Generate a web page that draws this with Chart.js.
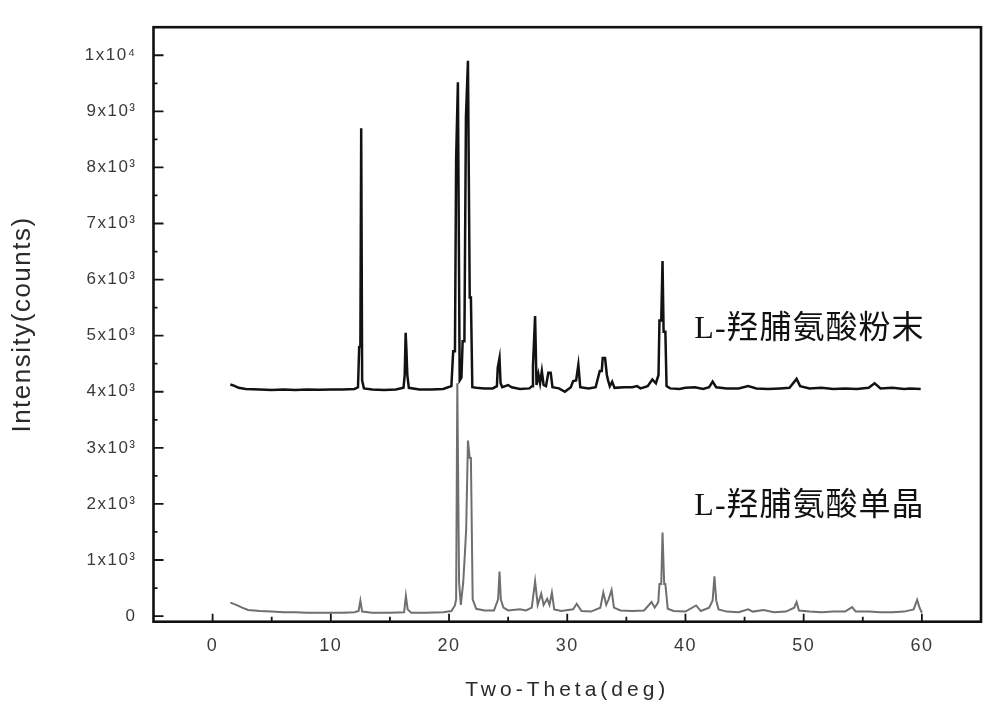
<!DOCTYPE html>
<html>
<head>
<meta charset="utf-8">
<script src="https://cdn.jsdelivr.net/npm/chart.js@4.4.1/dist/chart.umd.min.js"></script>
<style>
  html, body { margin: 0; padding: 0; background: #fff; }
  canvas { display: block; }
</style>
</head>
<body>
<canvas id="c" width="1000" height="714"></canvas>
<script>
// ---- data ----
const powderTheta = [1.5,1.8,2.2,2.8,4.0,5.0,6.0,7.0,8.0,9.0,10.0,11.0,12.0,12.3,12.4,12.5,12.57,12.65,12.8,13.5,14.5,15.5,16.15,16.25,16.33,16.4,16.47,16.6,17.5,18.5,19.5,20.2,20.35,20.5,20.6,20.75,20.9,21.05,21.15,21.3,21.43,21.6,21.75,21.85,21.97,22.3,23.0,23.7,24.05,24.12,24.27,24.36,24.5,25.0,25.3,26.0,26.8,27.02,27.1,27.28,27.4,27.56,27.7,27.85,28.0,28.2,28.4,28.6,28.75,29.3,29.8,30.3,30.5,30.75,30.94,31.1,31.8,32.4,32.75,32.92,33.0,33.2,33.35,33.47,33.6,33.8,34.0,34.8,35.5,35.9,36.2,36.8,37.2,37.5,37.72,37.8,37.95,38.06,38.15,38.3,38.4,38.7,39.5,40.0,40.8,41.5,42.0,42.3,42.6,43.5,44.5,45.3,46.0,47.0,48.0,48.8,49.4,49.7,50.5,51.5,52.5,53.5,54.5,55.5,56.0,56.5,57.5,58.5,59.0,59.9];
const powderCounts = [4130,4110,4070,4050,4040,4030,4040,4030,4040,4035,4040,4040,4050,4080,4800,4810,8700,4200,4060,4040,4030,4040,4070,4300,5050,4720,4300,4070,4040,4040,4050,4100,4720,4720,8150,9520,4200,4250,4900,4900,8900,9900,5680,5680,4080,4070,4060,4060,4100,4430,4600,4150,4080,4120,4080,4050,4060,4100,4460,5350,4120,4310,4150,4370,4120,4100,4340,4340,4080,4060,4000,4080,4190,4200,4480,4080,4060,4080,4370,4370,4600,4600,4300,4190,4100,4180,4070,4080,4080,4100,4060,4100,4220,4150,4300,5270,5270,6330,5070,5070,4100,4060,4050,4070,4080,4050,4080,4180,4080,4060,4060,4100,4060,4050,4060,4070,4230,4100,4060,4070,4050,4060,4050,4070,4150,4060,4070,4050,4060,4050];

const crystalTheta = [1.5,2.0,2.5,3.0,4.0,5.0,6.0,7.0,8.0,9.0,10.0,11.0,12.0,12.35,12.5,12.65,13.5,15.0,16.2,16.35,16.5,16.8,18.0,19.5,20.2,20.5,20.6,20.7,20.85,21.0,21.2,21.35,21.45,21.6,21.75,21.85,22.0,22.3,23.0,23.8,24.15,24.27,24.38,24.6,25.0,26.0,26.5,27.0,27.28,27.5,27.8,28.0,28.3,28.5,28.7,28.9,29.5,30.5,30.8,31.2,32.0,32.8,33.05,33.3,33.5,33.75,33.95,34.5,35.5,36.5,37.13,37.4,37.7,37.8,37.95,38.06,38.2,38.3,38.5,39.0,40.0,40.9,41.3,42.0,42.3,42.45,42.6,42.8,43.5,44.5,45.3,45.7,46.6,47.5,48.5,49.2,49.4,49.6,50.5,51.5,52.5,53.5,54.1,54.4,55.5,56.5,57.5,58.5,59.3,59.6,59.8,60.0];
const crystalCounts = [240,200,150,110,90,80,70,70,60,60,60,60,70,90,275,80,60,60,70,360,120,60,60,70,90,190,300,4150,600,200,600,1150,1550,3130,2820,2820,300,130,100,100,300,795,300,150,100,120,100,150,620,200,400,200,310,200,420,120,90,120,220,90,80,150,420,200,300,465,150,100,90,100,250,150,250,570,570,1490,570,570,130,90,80,190,90,150,280,710,280,120,80,70,120,80,110,70,80,150,250,100,80,70,80,80,160,80,80,70,70,80,120,290,150,60];

const seriesNames = ['L-羟脯氨酸粉末', 'L-羟脯氨酸单晶'];

const xTickValues = [0, 10, 20, 30, 40, 50, 60];
const xTickLabels = ['0', '10', '20', '30', '40', '50', '60'];
const yTickValues = [0, 1000, 2000, 3000, 4000, 5000, 6000, 7000, 8000, 9000, 10000];
const yTickLabels = ['0', '1x10³', '2x10³', '3x10³', '4x10³', '5x10³', '6x10³', '7x10³', '8x10³', '9x10³', '1x10⁴'];

// label anchors in data coordinates (x = 2θ, y = counts)
const labelAnchors = [[40.75, 5110], [40.75, 1950]];

const toPoints = (xs, ys) => xs.map((v, i) => ({ x: v, y: ys[i] }));

const FONT = "'Liberation Sans', Arial, sans-serif";

const decor = {
  id: 'decor',
  beforeDraw(chart) {
    chart.ctx.letterSpacing = '1.5px';
  },
  beforeDatasetsDraw(chart) {
    chart.ctx.letterSpacing = '0px';
  },
  afterDatasetsDraw(chart) {
    const { ctx, chartArea: a, scales: { x, y } } = chart;
    ctx.save();
    ctx.strokeStyle = '#151515';
    ctx.lineWidth = 1.8;
    ctx.beginPath();
    for (let i = 0; i < xTickValues.length; i++) {
      const v = xTickValues[i];
      const px = x.getPixelForValue(v);
      ctx.moveTo(px, a.bottom); ctx.lineTo(px, a.bottom - 8);
      if (i < xTickValues.length - 1) {
        const m = x.getPixelForValue((v + xTickValues[i + 1]) / 2);
        ctx.moveTo(m, a.bottom); ctx.lineTo(m, a.bottom - 5);
      }
    }
    for (let i = 0; i < yTickValues.length; i++) {
      const v = yTickValues[i];
      const py = y.getPixelForValue(v);
      ctx.moveTo(a.left, py); ctx.lineTo(a.left + 10, py);
      if (i < yTickValues.length - 1) {
        const m = y.getPixelForValue((v + yTickValues[i + 1]) / 2);
        ctx.moveTo(a.left, m); ctx.lineTo(a.left + 4, m);
      }
    }
    ctx.stroke();
    ctx.lineWidth = 2.6;
    ctx.strokeStyle = '#111';
    ctx.strokeRect(a.left, a.top, a.right - a.left, a.bottom - a.top);
    ctx.restore();
  },
  afterDraw(chart) {
    const { ctx, scales: { x, y } } = chart;
    ctx.save();
    ctx.letterSpacing = '1px';
    ctx.fillStyle = '#111';
    ctx.font = "32px 'Liberation Serif', 'Noto Sans CJK SC', serif";
    ctx.textAlign = 'left';
    ctx.textBaseline = 'middle';
    seriesNames.forEach((name, i) => {
      ctx.fillText(name, x.getPixelForValue(labelAnchors[i][0]), y.getPixelForValue(labelAnchors[i][1]));
    });
    ctx.restore();
  }
};

const chart = new Chart(document.getElementById('c'), {
  type: 'line',
  data: {
    datasets: [
      {
        label: seriesNames[0],
        data: toPoints(powderTheta, powderCounts),
        borderColor: '#121212',
        borderWidth: 2.5,
        pointRadius: 0,
        tension: 0,
        fill: false,
        order: 0
      },
      {
        label: seriesNames[1],
        data: toPoints(crystalTheta, crystalCounts),
        borderColor: '#6f6f6f',
        borderWidth: 2,
        pointRadius: 0,
        tension: 0,
        fill: false,
        order: 1
      }
    ]
  },
  options: {
    responsive: false,
    animation: false,
    events: [],
    layout: { padding: { left: 0, right: 19, top: 9.5, bottom: 0 } },
    plugins: { legend: { display: false }, tooltip: { enabled: false } },
    scales: {
      x: {
        type: 'linear',
        min: -5,
        max: 65,
        grid: { display: false, drawTicks: false },
        border: { display: false },
        afterBuildTicks: (s) => { s.ticks = xTickValues.map(v => ({ value: v })); },
        afterFit: (s) => { s.height = 92.3; },
        ticks: {
          padding: 14,
          maxRotation: 0,
          autoSkip: false,
          color: '#3a3a3a',
          font: { family: FONT, size: 18 },
          callback: (v) => { const i = xTickValues.indexOf(v); return i >= 0 ? xTickLabels[i] : ''; }
        },
        title: {
          display: true,
          text: 'Two-Theta(deg)',
          color: '#2a2a2a',
          font: { family: FONT, size: 21 },
          padding: { top: 0, bottom: 11 }
        }
      },
      y: {
        type: 'linear',
        min: -100,
        max: 10500,
        grid: { display: false, drawTicks: false },
        border: { display: false },
        afterBuildTicks: (s) => { s.ticks = yTickValues.map(v => ({ value: v })); },
        afterFit: (s) => { s.width = 153.5; },
        ticks: {
          padding: 17,
          autoSkip: false,
          color: '#3a3a3a',
          font: { family: FONT, size: 17 },
          callback: (v) => { const i = yTickValues.indexOf(v); return i >= 0 ? yTickLabels[i] : ''; }
        },
        title: {
          display: true,
          text: 'Intensity(counts)',
          color: '#2a2a2a',
          font: { family: FONT, size: 26 },
          padding: { top: 7, bottom: 0 }
        }
      }
    }
  },
  plugins: [decor]
});

// wider letter spacing for the x-axis title, as in the reference
const xs = chart.scales.x;
const origDrawTitle = xs.drawTitle;
xs.drawTitle = function () {
  const ctx = this.ctx;
  const prev = ctx.letterSpacing;
  ctx.letterSpacing = '4px';
  origDrawTitle.call(this);
  ctx.letterSpacing = prev;
};
chart.draw();
</script>
</body>
</html>
